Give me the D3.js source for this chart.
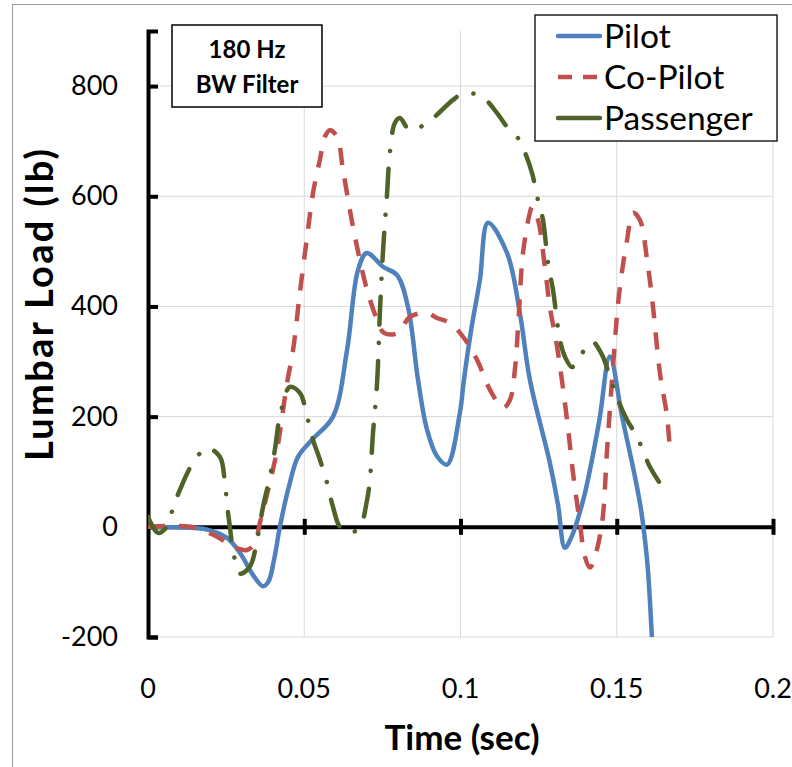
<!DOCTYPE html>
<html>
<head>
<meta charset="utf-8">
<script src="https://cdn.jsdelivr.net/npm/d3@7"></script>
<style>
  html, body { margin: 0; padding: 0; background: #fff; }
  svg { display: block; }
  text { font-family: Lato, "Open Sans", sans-serif; }
</style>
</head>
<body>
<svg id="chart" width="792" height="767"></svg>
<script>
// ---- Data ----
const seriesNames = ["Pilot", "Co-Pilot", "Passenger"];

const pilotTime = [0, 0.008, 0.019, 0.0253, 0.0294, 0.0339, 0.0368, 0.0385, 0.0405, 0.0422, 0.0454, 0.048, 0.0525, 0.0592, 0.0637, 0.0672, 0.070, 0.0752, 0.0797, 0.0832, 0.0864, 0.0893, 0.0925, 0.0957, 0.0998, 0.1011, 0.1034, 0.1062, 0.1088, 0.1149, 0.1190, 0.1222, 0.1286, 0.1312, 0.1334, 0.1354, 0.1395, 0.1443, 0.1478, 0.1517, 0.1555, 0.1578, 0.1597, 0.1606, 0.1612, 0.1618];
const pilotLoad = [0, -1, -5, -20, -47, -90, -108, -100, -55, 0, 80, 127, 158, 200, 321, 466, 497, 472, 457, 399, 267, 176, 128, 113, 207, 267, 357, 448, 552, 497, 388, 267, 116, 40, -38, -20, 54, 189, 309, 200, 100, 30, -60, -132, -196, -260];

const copilotTime = [0, 0.0136, 0.0221, 0.0272, 0.0317, 0.0342, 0.0358, 0.039, 0.0413, 0.0445, 0.0464, 0.0486, 0.0509, 0.0528, 0.055, 0.0566, 0.0582, 0.0605, 0.0624, 0.0646, 0.0669, 0.0701, 0.0733, 0.0755, 0.080, 0.0838, 0.0893, 0.0925, 0.0966, 0.1008, 0.1053, 0.1094, 0.1136, 0.1158, 0.1174, 0.1186, 0.120, 0.1222, 0.1229, 0.1248, 0.127, 0.1286, 0.1309, 0.1341, 0.136, 0.1382, 0.1398, 0.1414, 0.143, 0.1453, 0.1469, 0.1488, 0.1507, 0.1533, 0.1552, 0.1574, 0.1597, 0.1616, 0.1638, 0.1661, 0.167];
const copilotLoad = [0, 0, -18, -36, -42, -29, 7, 80, 140, 261, 320, 425, 526, 606, 666, 708, 720, 708, 648, 575, 508, 430, 376, 352, 352, 381, 388, 379, 370, 345, 303, 249, 216, 230, 285, 380, 497, 570, 581, 557, 472, 399, 327, 194, 98, 7, -54, -74, -54, 7, 140, 290, 420, 521, 570, 557, 485, 399, 280, 200, 140];

const passengerTime = [0, 0.0032, 0.006, 0.008, 0.0102, 0.0144, 0.0189, 0.023, 0.0246, 0.0253, 0.0262, 0.0272, 0.0294, 0.0326, 0.0349, 0.0368, 0.039, 0.0406, 0.0422, 0.0454, 0.0486, 0.0509, 0.0528, 0.055, 0.0573, 0.0592, 0.0614, 0.0646, 0.0678, 0.0701, 0.071, 0.072, 0.0733, 0.0742, 0.0752, 0.0765, 0.0774, 0.079, 0.0806, 0.0838, 0.0893, 0.0934, 0.0976, 0.1014, 0.1072, 0.1117, 0.1149, 0.1181, 0.1206, 0.1229, 0.1248, 0.1264, 0.128, 0.1296, 0.1318, 0.1334, 0.1357, 0.1382, 0.1421, 0.1453, 0.1478, 0.1504, 0.1533, 0.1565, 0.1606, 0.1635];
const passengerLoad = [18, -11, 0, 34, 67, 116, 143, 127, 80, 40, 0, -42, -85, -72, -24, 36, 91, 140, 200, 254, 243, 200, 158, 122, 80, 36, 0, -11, 0, 49, 85, 170, 261, 388, 500, 605, 679, 733, 742, 720, 733, 753, 775, 788, 779, 751, 726, 708, 680, 642, 593, 557, 479, 430, 340, 309, 290, 309, 336, 312, 272, 230, 194, 163, 109, 82];

const xTicks = [0, 0.05, 0.1, 0.15, 0.2];
const xTickLabels = ["0", "0.05", "0.1", "0.15", "0.2"];
const yTicks = [-200, 0, 200, 400, 600, 800];
const annotationLines = ["180 Hz", "BW Filter"];
const xTitle = "Time (sec)";
const yTitle = "Lumbar Load (lb)";

// ---- Styles ----
const colors = { "Pilot": "#4F81BD", "Co-Pilot": "#C0504D", "Passenger": "#4F6228" };
const dashes = { "Pilot": null, "Co-Pilot": "17,14", "Passenger": "28,18,0.1,18" };
const caps = { "Pilot": "round", "Co-Pilot": "butt", "Passenger": "round" };

const svg = d3.select("#chart");
const L = 148, R = 773, T = 31, B = 637;

const x = d3.scaleLinear().domain([0, 0.2]).range([L, R]);
const y = d3.scaleLinear().domain([-200, 900]).range([B, T]);

// outer border
svg.append("rect").attr("x", 12.5).attr("y", 4.5).attr("width", 800).attr("height", 800)
  .attr("fill", "none").attr("stroke", "#9a9a9a").attr("stroke-width", 1);

// gridlines
const grid = svg.append("g");
grid.selectAll("line.h").data(yTicks).join("line")
  .attr("x1", L).attr("x2", R).attr("y1", d => y(d)).attr("y2", d => y(d))
  .attr("stroke", "#d9d9d9").attr("stroke-width", 1);
grid.selectAll("line.v").data(xTicks.slice(1)).join("line")
  .attr("y1", T).attr("y2", B).attr("x1", d => x(d)).attr("x2", d => x(d))
  .attr("stroke", "#d9d9d9").attr("stroke-width", 1);

// clip
svg.append("clipPath").attr("id", "plotclip").append("rect")
  .attr("x", L).attr("y", T).attr("width", R - L).attr("height", B - T);

// x axis (at y=0)
const xAxisG = svg.append("g").attr("transform", `translate(0,${y(0)})`);
xAxisG.call(d3.axisBottom(x).tickValues(xTicks.slice(1)).tickSize(0).tickFormat(""));
xAxisG.select(".domain").attr("stroke", "#000").attr("stroke-width", 4);
xAxisG.selectAll(".tick line").attr("y1", -8).attr("y2", 8).attr("stroke", "#000").attr("stroke-width", 4);

// x tick labels at bottom
svg.append("g").selectAll("text").data(xTicks).join("text")
  .attr("x", d => x(d)).attr("y", 698).attr("text-anchor", "middle")
  .attr("font-size", 27).attr("fill", "#000")
  .text((d, i) => xTickLabels[i]);

// y axis
const yAxisG = svg.append("g").attr("transform", `translate(${L},0)`);
yAxisG.call(d3.axisRight(y).tickValues(yTicks).tickSize(10).tickFormat(""));
yAxisG.select(".domain").attr("stroke", "#000").attr("stroke-width", 4);
yAxisG.selectAll(".tick line").attr("stroke", "#000").attr("stroke-width", 4);
svg.append("g").selectAll("text").data(yTicks).join("text")
  .attr("x", 118).attr("y", d => y(d) + 9).attr("text-anchor", "end")
  .attr("font-size", 27).attr("fill", "#000").text(d => String(d));

// series
const series = [
  { name: "Pilot", t: pilotTime, v: pilotLoad },
  { name: "Co-Pilot", t: copilotTime, v: copilotLoad },
  { name: "Passenger", t: passengerTime, v: passengerLoad }
];
const line = d3.line().x(d => x(d[0])).y(d => y(d[1])).curve(d3.curveCatmullRom.alpha(0.5));
const plotG = svg.append("g").attr("clip-path", "url(#plotclip)");
series.forEach(s => {
  const pts = s.t.map((t, i) => [t, s.v[i]]);
  plotG.append("path").datum(pts).attr("d", line)
    .attr("fill", "none").attr("stroke", colors[s.name]).attr("stroke-width", 4.5)
    .attr("stroke-linecap", caps[s.name]).attr("stroke-linejoin", "round")
    .attr("stroke-dasharray", dashes[s.name]);
});

// annotation box
svg.append("rect").attr("x", 172).attr("y", 25).attr("width", 150).attr("height", 82)
  .attr("fill", "#fff").attr("stroke", "#000").attr("stroke-width", 1.5);
svg.append("g").selectAll("text").data(annotationLines).join("text")
  .attr("x", 247).attr("y", (d, i) => 58 + i * 35).attr("text-anchor", "middle")
  .attr("font-size", 24).attr("font-weight", "bold").attr("fill", "#000").text(d => d);

// legend
const lg = svg.append("g");
lg.append("rect").attr("x", 535).attr("y", 15).attr("width", 242).attr("height", 126)
  .attr("fill", "#fff").attr("stroke", "#222").attr("stroke-width", 1.5);
seriesNames.forEach((n, i) => {
  const cy = 36 + i * 41;
  lg.append("line").attr("x1", 558).attr("x2", 600).attr("y1", cy).attr("y2", cy)
    .attr("stroke", colors[n]).attr("stroke-width", 4.5)
    .attr("stroke-linecap", n === "Co-Pilot" ? "butt" : "round")
    .attr("stroke-dasharray", n === "Co-Pilot" ? "14,11" : null);
  lg.append("text").attr("x", 604).attr("y", cy + 12).attr("font-size", 33.5)
    .attr("fill", "#000").text(n);
});

// axis titles
svg.append("text").attr("x", 462).attr("y", 750).attr("text-anchor", "middle")
  .attr("font-size", 35).attr("font-weight", "bold").attr("fill", "#000").text(xTitle);
svg.append("text").attr("transform", "translate(53,305) rotate(-90)").attr("text-anchor", "middle")
  .attr("font-size", 38).attr("font-weight", "bold").attr("fill", "#000")
  .attr("textLength", 312).attr("lengthAdjust", "spacing").text(yTitle);
</script>
</body>
</html>
